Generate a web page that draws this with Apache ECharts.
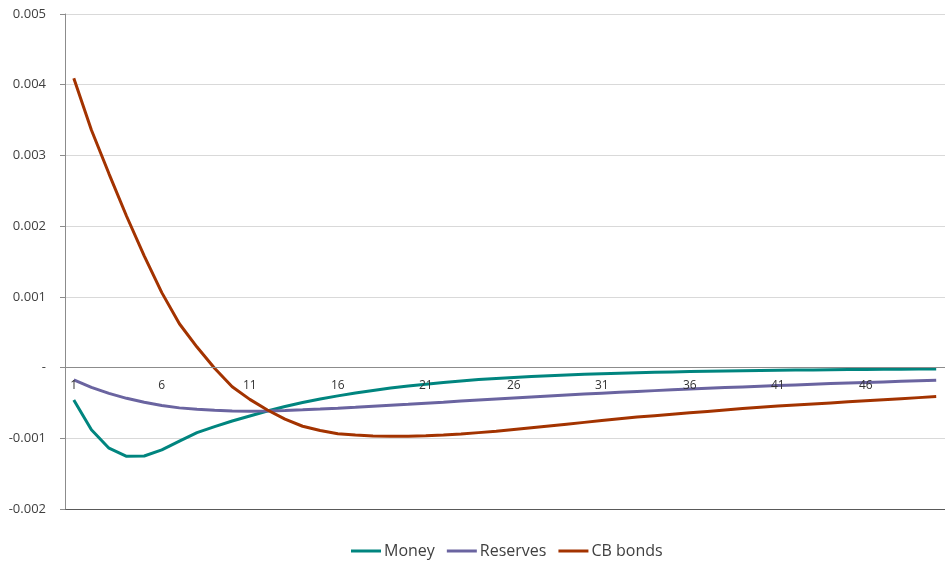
<!DOCTYPE html>
<html><head><meta charset="utf-8">
<script src="https://cdn.jsdelivr.net/npm/echarts@6/dist/echarts.min.js"></script>
<style>html,body{margin:0;padding:0;background:#fff}#c{width:945px;height:567px}</style>
</head><body><div id="c"></div>
<script>
const categories = Array.from({length:50},(_, i)=>String(i+1));
const money = [-0.46,-0.88,-1.14,-1.255,-1.25,-1.165,-1.04,-0.92,-0.835,-0.755,-0.685,-0.615,-0.55,-0.495,-0.445,-0.40,-0.36,-0.325,-0.29,-0.26,-0.235,-0.21,-0.19,-0.17,-0.155,-0.14,-0.127,-0.115,-0.105,-0.095,-0.086,-0.079,-0.072,-0.066,-0.061,-0.056,-0.052,-0.048,-0.045,-0.042,-0.039,-0.036,-0.034,-0.031,-0.029,-0.027,-0.025,-0.023,-0.021,-0.019];
const reserves = [-0.175,-0.28,-0.365,-0.435,-0.49,-0.535,-0.57,-0.59,-0.605,-0.615,-0.618,-0.615,-0.608,-0.598,-0.587,-0.575,-0.562,-0.548,-0.534,-0.52,-0.505,-0.49,-0.474,-0.459,-0.444,-0.43,-0.416,-0.402,-0.388,-0.375,-0.362,-0.35,-0.338,-0.326,-0.315,-0.304,-0.293,-0.283,-0.273,-0.263,-0.254,-0.245,-0.236,-0.227,-0.219,-0.211,-0.203,-0.195,-0.187,-0.179];
const cbBonds = [4.09,3.36,2.74,2.14,1.58,1.06,0.62,0.29,-0.01,-0.27,-0.45,-0.60,-0.73,-0.83,-0.89,-0.935,-0.955,-0.968,-0.972,-0.97,-0.965,-0.955,-0.94,-0.92,-0.90,-0.875,-0.85,-0.825,-0.80,-0.775,-0.75,-0.725,-0.70,-0.68,-0.66,-0.64,-0.62,-0.60,-0.58,-0.56,-0.545,-0.53,-0.515,-0.50,-0.485,-0.47,-0.455,-0.44,-0.425,-0.41];
const scale = 0.001; // values above are in thousandths
const seriesNames = ['Money','Reserves','CB bonds'];
const colors = ['#00857F','#6A64A0','#A33300'];
const font = '"Open Sans", "Noto Sans", sans-serif';
const yMin = -0.002, yMax = 0.005;
const gridTop = 14, gridBottom = 58, H = 567;

const plotH = H - gridTop - gridBottom;
const zeroOffset = -plotH * (0 - yMin) / (yMax - yMin); // lift category axis to y=0

const chart = echarts.init(document.getElementById('c'));
chart.setOption({
  animation:false,
  color: colors,
  grid:{left:65,right:0,top:gridTop,bottom:gridBottom},
  legend:{
    bottom:3, left:346, icon:'rect', itemWidth:30, itemHeight:3, itemGap:12,
    textStyle:{fontFamily:font,fontSize:16,color:'#404040',padding:[0,0,0,-2]},
    data: seriesNames
  },
  xAxis:{
    type:'category', data:categories, boundaryGap:true, position:'bottom', offset:zeroOffset, z:10,
    axisLine:{onZero:false,lineStyle:{color:'#8C8C8C',width:1}},
    axisTick:{show:false},
    axisLabel:{interval:4,fontFamily:font,fontSize:12,color:'#333333',margin:12}
  },
  yAxis:{
    type:'value', min:yMin, max:yMax, interval:0.001, z:-5,
    axisLine:{show:true,lineStyle:{color:'#8C8C8C'}},
    axisTick:{show:true,inside:false,length:5,lineStyle:{color:'#8C8C8C'}},
    splitLine:{lineStyle:{color:['#595959','#D9D9D9','#8C8C8C','#D9D9D9','#D9D9D9','#D9D9D9','#D9D9D9','#D9D9D9']}},
    axisLabel:{fontFamily:font,fontSize:13,color:'#404040',margin:19,
      formatter:v=>Math.abs(v)<1e-12?'-':v.toFixed(3)}
  },
  series:[money,reserves,cbBonds].map((arr,i)=>({
    name:seriesNames[i], type:'line', showSymbol:false, symbol:'none', z:-1,
    lineStyle:{width:3,color:colors[i]}, itemStyle:{color:colors[i]},
    data:arr.map(v=>+(v*scale).toFixed(7))
  }))
});
</script></body></html>
